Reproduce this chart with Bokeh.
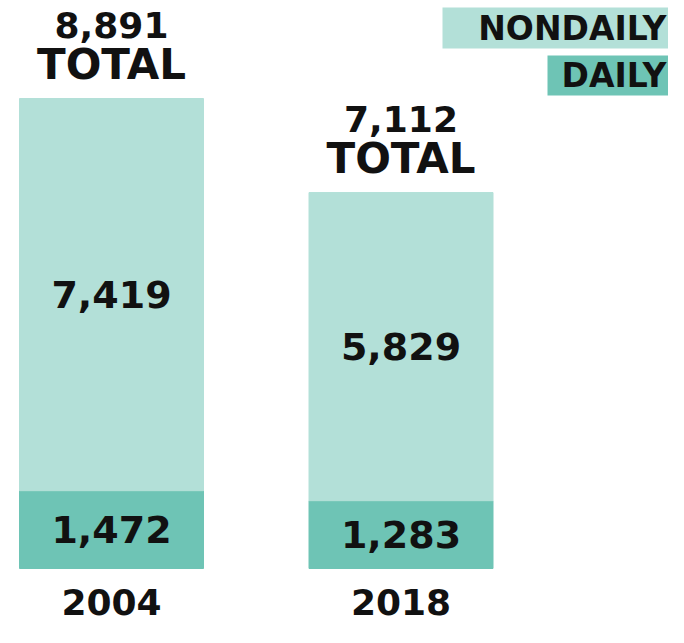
from bokeh.plotting import figure
from bokeh.models import ColumnDataSource, Range1d
from bokeh.core.properties import value
from bokeh.embed import file_html
from bokeh.resources import INLINE

# ---- data ----
years = ["2004", "2018"]
daily = [1472, 1283]
nondaily = [7419, 5829]
totals = [8891, 7112]
series = ["NONDAILY", "DAILY"]
colors = ["#b3e0d8", "#6ec4b5"]  # nondaily, daily

# ---- layout (pixels) ----
W, H = 668, 627
c0, step, bw_px = 111.0, 289.5, 184.0
zero_py, top_py = 568.0, 98.0
s = (zero_py - top_py) / max(totals)          # px per unit
y_start = -(H - zero_py) / s
y_end = zero_py / s
x_start = -c0 / step
x_end = (W - c0) / step

def px_x(px):
    return x_start + px / step

def px_y(py):
    return y_end - py / s

FONT = value("DejaVu Sans")

p = figure(width=W, height=H, output_backend="svg", toolbar_location=None,
           x_range=Range1d(x_start, x_end), y_range=Range1d(y_start, y_end),
           min_border=0, outline_line_color=None)
p.axis.visible = False
p.xgrid.visible = False
p.ygrid.visible = False
p.background_fill_color = "white"
p.border_fill_color = "white"

xs = list(range(len(years)))
src = ColumnDataSource(dict(
    x=xs, daily=daily, nondaily=nondaily, totals=totals, year=years,
    daily_mid=[d / 2 for d in daily],
    non_mid=[d + n / 2 for d, n in zip(daily, nondaily)],
    daily_lbl=[f"{v:,}" for v in daily],
    non_lbl=[f"{v:,}" for v in nondaily],
    tot_lbl=[f"{v:,}" for v in totals],
    tot_num_y=[t + 74 / s for t in totals],
    tot_word_y=[t + 34 / s for t in totals],
    tot_word=["TOTAL"] * len(years),
    year_y=[-33 / s] * len(years),
))

p.vbar_stack(["daily", "nondaily"], x="x", width=bw_px / step,
             color=[colors[1], colors[0]], source=src)

common = dict(text_font=FONT, text_font_style="bold", text_color="#111111",
              text_align="center", text_baseline="middle", source=src)
p.text(x="x", y="daily_mid", text="daily_lbl", text_font_size="38px", **common)
p.text(x="x", y="non_mid", text="non_lbl", text_font_size="38px", **common)
p.text(x="x", y="tot_num_y", text="tot_lbl", text_font_size="36px", **common)
p.text(x="x", y="tot_word_y", text="tot_word", text_font_size="42px", **common)
p.text(x="x", y="year_y", text="year", text_font_size="36px", **common)

# ---- legend ----
leg = ColumnDataSource(dict(
    left=[px_x(442), px_x(547)], right=[px_x(W), px_x(W)],
    top=[px_y(7), px_y(55)], bottom=[px_y(48), px_y(95)],
    tx=[px_x(666), px_x(666)], ty=[px_y(27.5), px_y(75)],
    name=series, color=colors,
))
p.quad(left="left", right="right", top="top", bottom="bottom",
       fill_color="color", line_color=None, source=leg)
p.text(x="tx", y="ty", text="name", text_font=FONT, text_font_style="bold",
       text_font_size="33px", text_color="#111111", text_align="right",
       text_baseline="middle", source=leg)

open("out.html", "w").write(file_html(p, INLINE))
